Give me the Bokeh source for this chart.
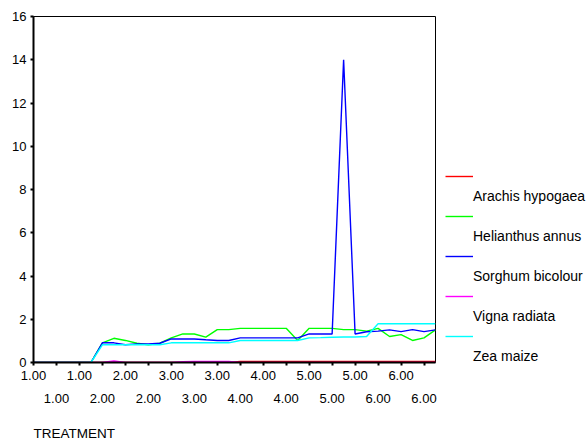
from bokeh.plotting import figure
from bokeh.models import (ColumnDataSource, LinearAxis, FixedTicker, Range1d,
                          Legend, LegendItem, Title)
from bokeh.core.properties import value
from bokeh.embed import file_html
from bokeh.resources import INLINE

# ---- data -------------------------------------------------------------
case_no = list(range(36))
treatment = [1.0, 1.0, 1.0, 1.0, 1.0, 1.0,
             2.0, 2.0, 2.0, 2.0, 2.0, 2.0,
             3.0, 3.0, 3.0, 3.0, 3.0, 3.0,
             4.0, 4.0, 4.0, 4.0, 4.0, 4.0,
             5.0, 5.0, 5.0, 5.0, 5.0, 5.0,
             6.0, 6.0, 6.0, 6.0, 6.0, 6.0]

series_names = ["Arachis hypogaea", "Helianthus annus", "Sorghum bicolour",
                "Vigna radiata", "Zea maize"]
series_colors = ["#ff0000", "#00ff00", "#0000ff", "#ff00ff", "#00ffff"]

arachis = [0, 0, 0, 0, 0, 0, 0, 0, 0, 0, 0, 0, 0, 0, 0, 0, 0, 0,
           0.05, 0.05, 0.05, 0.05, 0.05, 0.05, 0.05, 0.05, 0.05, 0.05, 0.05, 0.05,
           0.05, 0.05, 0.05, 0.05, 0.05, 0.05]
helianthus = [0, 0, 0, 0, 0, 0,
              0.91, 1.12, 1.02, 0.89, 0.82, 0.89,
              1.14, 1.32, 1.32, 1.17, 1.52, 1.52,
              1.58, 1.58, 1.58, 1.58, 1.58, 1.02,
              1.58, 1.58, 1.58, 1.52, 1.52, 1.45,
              1.58, 1.20, 1.29, 1.02, 1.14, 1.51]
sorghum = [0, 0, 0, 0, 0, 0,
           0.91, 0.91, 0.82, 0.86, 0.86, 0.89,
           1.09, 1.09, 1.09, 1.05, 1.02, 1.02,
           1.14, 1.14, 1.14, 1.14, 1.14, 1.14,
           1.32, 1.32, 1.32, 14.0, 1.32, 1.42,
           1.45, 1.51, 1.43, 1.52, 1.43, 1.51]
vigna = [0, 0, 0, 0, 0, 0, 0, 0.07, 0, 0, 0, 0,
         0, 0.04, 0.05, 0.05, 0.05, 0.05,
         0, 0, 0, 0, 0, 0, 0, 0, 0, 0, 0, 0,
         0, 0, 0, 0, 0, 0]
zea = [0, 0, 0, 0, 0, 0,
       0.82, 0.82, 0.82, 0.82, 0.82, 0.82,
       0.91, 0.91, 0.91, 0.91, 0.91, 0.91,
       1.02, 1.02, 1.02, 1.02, 1.02, 1.02,
       1.14, 1.15, 1.17, 1.18, 1.18, 1.20,
       1.79, 1.79, 1.79, 1.79, 1.79, 1.79]

y_ticks = [0, 2, 4, 6, 8, 10, 12, 14, 16]

# ---- figure -----------------------------------------------------------
FONT = "Liberation Sans"

source = ColumnDataSource(dict(case=case_no, treatment=treatment,
                               s0=arachis, s1=helianthus, s2=sorghum,
                               s3=vigna, s4=zea))

p = figure(frame_width=402, frame_height=346, title=None,
           output_backend="svg", toolbar_location=None,
           x_range=Range1d(case_no[0], case_no[-1]),
           y_range=Range1d(y_ticks[0], y_ticks[-1]),
           min_border_left=33, min_border_right=152,
           min_border_top=16, min_border_bottom=0)
p.background_fill_color = "white"
p.border_fill_color = "white"
p.outline_line_color = "black"
p.outline_line_width = 1
p.xgrid.visible = False
p.ygrid.visible = False

renderers = []
for k, col in enumerate(["s0", "s1", "s2", "s3", "s4"]):
    r = p.line(x="case", y=col, source=source, line_color=series_colors[k],
               line_width=1.4)
    renderers.append(r)

# y axis
p.yaxis.ticker = FixedTicker(ticks=y_ticks)
p.yaxis.axis_line_width = 2
p.yaxis.axis_line_color = "black"
p.yaxis.major_tick_line_width = 2
p.yaxis.major_tick_out = 3
p.yaxis.major_tick_in = 0
p.yaxis.minor_tick_line_color = None
p.yaxis.major_label_standoff = 4
p.yaxis.major_label_text_font = FONT
p.yaxis.major_label_text_font_size = "13px"
p.yaxis.major_label_text_color = "black"

# x axis: ticks every second case, labels staggered over two rows
tick_cases = case_no[0::2]
row1 = tick_cases[0::2]
row2 = tick_cases[1::2]
lab1 = {c: ("%.2f" % treatment[c] if c in row1 else "") for c in tick_cases}
lab2 = {c: "%.2f" % treatment[c] for c in row2}

xa = p.xaxis[0]
xa.ticker = FixedTicker(ticks=tick_cases)
xa.major_label_overrides = lab1
xa.axis_line_width = 2
xa.axis_line_color = "black"
xa.major_tick_line_width = 2
xa.major_tick_out = 3
xa.major_tick_in = 0
xa.minor_tick_line_color = None
xa.minor_tick_out = 0
xa.major_label_standoff = 5
xa.major_label_text_font = FONT
xa.major_label_text_font_size = "13px"
xa.major_label_text_color = "black"

xa2 = LinearAxis(ticker=FixedTicker(ticks=row2), major_label_overrides=lab2,
                 axis_line_color=None, major_tick_line_color=None,
                 minor_tick_line_color=None, major_tick_out=0, major_tick_in=0,
                 minor_tick_out=0, minor_tick_in=0, major_label_standoff=11,
                 major_label_text_font=FONT, major_label_text_font_size="13px",
                 major_label_text_color="black")
p.add_layout(xa2, "below")

p.add_layout(Title(text="TREATMENT", align="left", text_font=FONT,
                   text_font_size="13.5px", text_font_style="normal",
                   text_color="black", standoff=37), "below")

# legend (SPSS style: each name sits between the sample lines)
items = []
for k, r in enumerate(renderers):
    items.append(LegendItem(label=value(" "), renderers=[r]))
    items.append(LegendItem(label=value(series_names[k]), renderers=[]))

legend = Legend(items=items, location=(10, -4), orientation="vertical",
                glyph_width=28, glyph_height=20, label_height=20,
                label_standoff=0, spacing=0, padding=0, margin=0,
                border_line_color=None, background_fill_alpha=0,
                label_text_font=FONT, label_text_font_size="14px",
                label_text_color="black")
p.add_layout(legend, "right")

open("out.html", "w").write(file_html(p, INLINE))
